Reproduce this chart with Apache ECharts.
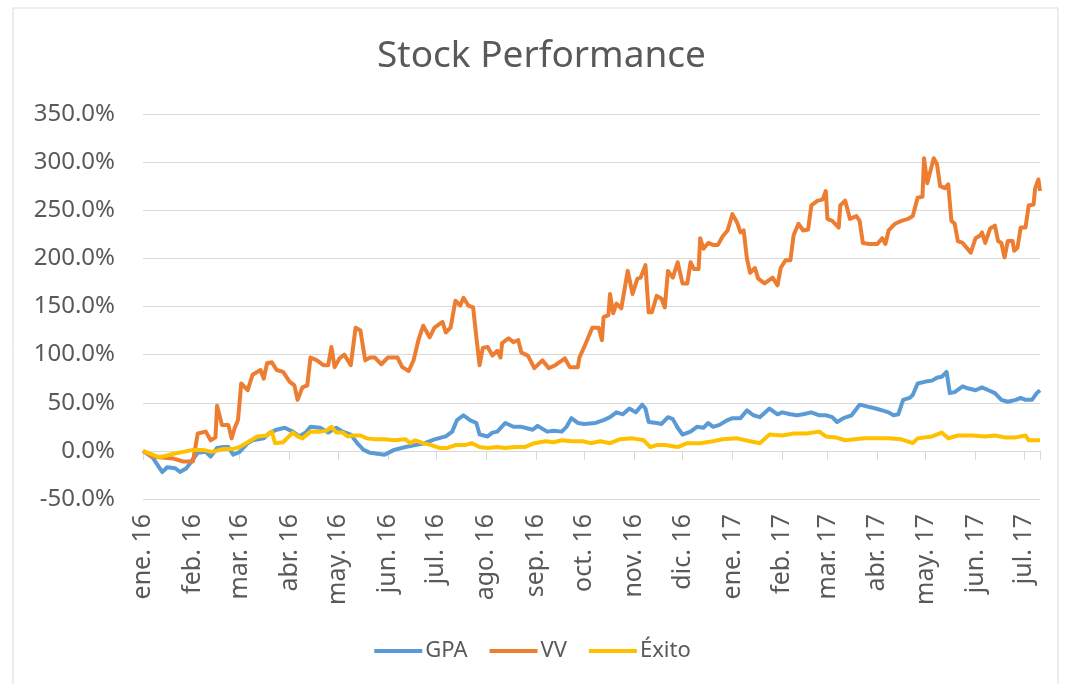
<!DOCTYPE html>
<html>
<head>
    <meta charset="utf-8">
    <script src="https://cdn.jsdelivr.net/npm/echarts@6/dist/echarts.min.js"></script>
    <style type="text/css">
        html, body { width: 100%; height: 100%; margin: 0; background: #fff; }
        #chart { width: 1065px; height: 684px; }
    </style>
</head>
<body>
<div id="chart"></div>
<script type="text/javascript">
    // x values are days counted from 1 Jan 2016, y values are % change
    var monthNames = ['ene.', 'feb.', 'mar.', 'abr.', 'may.', 'jun.', 'jul.', 'ago.', 'sep.', 'oct.', 'nov.', 'dic.'];
    var yTicks = [-50, 0, 50, 100, 150, 200, 250, 300, 350];
    var seriesNames = ['GPA', 'VV', 'Éxito'];

    var gpa = [[0,0],[6,-7],[12,-22],[15,-17],[20,-18],[23,-22],[27,-18],[30,-11],[34,-2],[39,-1],[42,-6],[46,3],[50,4],[53,4],[56,-4],[60,-1],[65,8],[68,11],[75,13],[79,19],[83,22],[88,24],[93,20],[97,15],[101,19],[104,25],[110,24],[115,19],[120,24],[124,20],[129,17],[133,8],[137,1],[141,-2],[150,-4],[156,1],[163,4],[169,6],[175,8],[181,12],[188,15],[192,20],[195,32],[199,37],[203,32],[207,29],[209,17],[214,15],[217,19],[220,20],[225,29],[230,25],[235,25],[242,22],[245,26],[251,20],[255,21],[260,20],[263,25],[266,34],[270,29],[274,28],[281,29],[286,32],[290,35],[294,40],[298,38],[302,44],[306,40],[310,48],[312,44],[314,30],[319,29],[322,28],[326,35],[329,33],[332,24],[335,17],[340,20],[344,25],[348,24],[351,29],[354,25],[358,27],[363,32],[366,34],[371,34],[375,42],[379,37],[383,35],[389,44],[394,38],[397,40],[402,38],[406,37],[410,38],[415,40],[420,37],[424,37],[428,35],[431,30],[435,34],[440,37],[445,48],[450,46],[455,44],[459,42],[463,40],[466,37],[469,38],[472,53],[476,55],[478,58],[481,70],[486,72],[490,73],[493,76],[496,77],[499,82],[501,60],[504,61],[509,67],[512,65],[517,63],[521,66],[525,63],[529,60],[533,53],[537,51],[542,53],[545,55],[548,53],[552,53],[555,60],[557,63]];

    var vv = [[0,0],[6,-6],[19,-8],[25,-11],[31,-11],[34,18],[39,20],[42,11],[45,14],[46,47],[49,27],[53,27],[55,13],[57,24],[59,32],[61,70],[65,63],[68,79],[73,84],[75,75],[77,91],[80,92],[83,84],[87,82],[91,72],[94,68],[96,53],[99,66],[102,68],[104,97],[108,94],[112,89],[115,89],[117,108],[119,87],[122,96],[125,100],[129,89],[132,128],[135,125],[138,94],[141,97],[144,97],[148,90],[152,97],[158,97],[161,87],[165,83],[168,94],[171,115],[174,130],[178,118],[181,128],[186,134],[188,123],[191,128],[194,156],[197,151],[199,159],[202,151],[205,149],[207,118],[209,89],[211,107],[214,108],[217,99],[220,104],[222,97],[223,112],[227,117],[230,113],[233,115],[235,102],[239,99],[243,86],[248,94],[252,86],[256,89],[262,96],[265,87],[270,87],[271,97],[274,108],[279,128],[283,128],[285,115],[286,139],[289,141],[290,163],[292,143],[294,153],[297,148],[298,158],[301,187],[302,189],[304,163],[307,179],[309,180],[312,193],[314,144],[316,144],[319,161],[322,158],[324,149],[326,187],[329,180],[332,196],[335,174],[338,174],[340,196],[342,189],[345,189],[346,221],[348,210],[351,216],[354,214],[357,214],[360,223],[363,229],[366,246],[369,237],[371,227],[373,229],[375,200],[377,185],[380,190],[382,179],[386,174],[391,180],[394,172],[396,190],[399,198],[402,198],[404,224],[407,236],[410,229],[413,230],[415,255],[419,260],[422,261],[424,270],[425,241],[428,239],[432,232],[433,255],[436,260],[439,241],[443,244],[445,239],[447,216],[451,215],[456,215],[459,221],[461,215],[463,229],[467,236],[471,239],[475,241],[478,244],[481,263],[484,264],[485,304],[487,278],[489,291],[491,304],[493,298],[495,275],[498,273],[500,277],[502,239],[504,236],[506,218],[509,216],[514,206],[517,221],[520,224],[521,227],[523,216],[526,231],[529,234],[531,218],[533,216],[535,201],[537,218],[540,218],[541,208],[543,211],[545,232],[548,232],[550,255],[553,256],[554,273],[556,282],[557,270]];

    var exito = [[0,0],[9,-6],[12,-6],[19,-3],[25,-1],[31,1],[37,1],[43,-1],[50,2],[56,2],[60,4],[65,9],[71,15],[77,16],[80,20],[82,8],[87,9],[93,19],[96,15],[99,13],[104,20],[110,20],[114,21],[117,25],[120,19],[124,19],[127,15],[130,16],[135,16],[139,13],[144,12],[150,12],[156,11],[163,12],[166,8],[169,11],[174,8],[179,6],[184,3],[189,3],[194,6],[200,6],[204,8],[209,4],[214,3],[220,4],[225,3],[231,4],[237,4],[243,8],[250,10],[255,9],[260,11],[266,10],[273,10],[278,8],[284,10],[290,8],[296,12],[304,13],[311,11],[315,4],[319,6],[324,6],[332,4],[338,8],[346,8],[354,10],[360,12],[369,13],[377,10],[383,8],[389,17],[397,16],[404,18],[412,18],[420,20],[424,15],[430,14],[436,11],[442,12],[448,13],[455,13],[463,13],[471,12],[478,8],[481,13],[490,15],[496,19],[500,13],[506,16],[515,16],[523,15],[529,16],[535,14],[542,14],[548,16],[550,11],[557,11]];

    function toTime(pts) {
        return pts.map(function (p) {
            return [new Date(2016, 0, 1 + p[0]).getTime(), p[1]];
        });
    }

    var DAY = 24 * 3600 * 1000;
    var xMin = new Date(2016, 0, 1).getTime();
    var xMax = new Date(2016, 0, 1 + 557).getTime();
    var fontFam = '"Noto Sans", sans-serif';
    var grey = '#595959';

    function monthLabel(v) {
        var d = new Date(v);
        return monthNames[d.getMonth()] + ' ' + String(d.getFullYear()).slice(2);
    }

    var xCommon = {
        type: 'time',
        min: xMin,
        max: xMax,
        minInterval: 27 * DAY,
        maxInterval: 32 * DAY,
        splitLine: { show: false }
    };

    var option = {
        animation: false,
        backgroundColor: '#fff',
        color: ['#5B9BD5', '#ED7D31', '#FFC000'],
        title: {
            text: 'Stock Performance',
            left: 372,
            top: 33,
            textStyle: { fontFamily: fontFam, fontSize: 37, fontWeight: 'normal', color: grey }
        },
        legend: {
            data: seriesNames,
            bottom: 17,
            left: 'center',
            icon: 'rect',
            itemWidth: 48,
            itemHeight: 4,
            itemGap: 22,
            textStyle: { fontFamily: fontFam, fontSize: 22, color: grey, padding: [0, 0, 0, -2] }
        },
        grid: { left: 143, right: 25, top: 114, bottom: 185 },
        xAxis: [
            Object.assign({}, xCommon, {
                position: 'bottom',
                axisLine: { show: false, onZero: false },
                axisTick: { show: false },
                axisLabel: {
                    rotate: 90,
                    margin: 15,
                    fontFamily: fontFam,
                    fontSize: 25,
                    color: grey,
                    formatter: monthLabel
                }
            }),
            Object.assign({}, xCommon, {
                position: 'bottom',
                axisLine: { show: true, onZero: true, lineStyle: { color: '#d9d9d9', width: 1 } },
                axisTick: { show: true, length: 9, inside: false, lineStyle: { color: '#d9d9d9' } },
                axisLabel: { show: false }
            })
        ],
        yAxis: {
            type: 'value',
            min: yTicks[0],
            max: yTicks[yTicks.length - 1],
            interval: 50,
            axisLine: { show: false },
            axisTick: { show: false },
            splitLine: { lineStyle: { color: '#d9d9d9', width: 1 } },
            axisLabel: {
                margin: 28,
                fontFamily: fontFam,
                fontSize: 24,
                color: grey,
                formatter: function (v) { return v.toFixed(1) + '%'; }
            }
        },
        series: [
            { name: seriesNames[0], type: 'line', data: toTime(gpa) },
            { name: seriesNames[1], type: 'line', data: toTime(vv) },
            { name: seriesNames[2], type: 'line', data: toTime(exito) }
        ].map(function (s) {
            s.showSymbol = false;
            s.symbol = 'none';
            s.xAxisIndex = 0;
            s.lineStyle = { width: 4, join: 'round' };
            return s;
        }),
        graphic: [{
            type: 'rect',
            shape: { x: 13, y: 8, width: 1045, height: 700 },
            style: { fill: null, stroke: '#d9d9d9', lineWidth: 1 },
            silent: true,
            z: -1
        }]
    };

    var myChart = echarts.init(document.getElementById('chart'));
    myChart.setOption(option);
</script>
</body>
</html>
